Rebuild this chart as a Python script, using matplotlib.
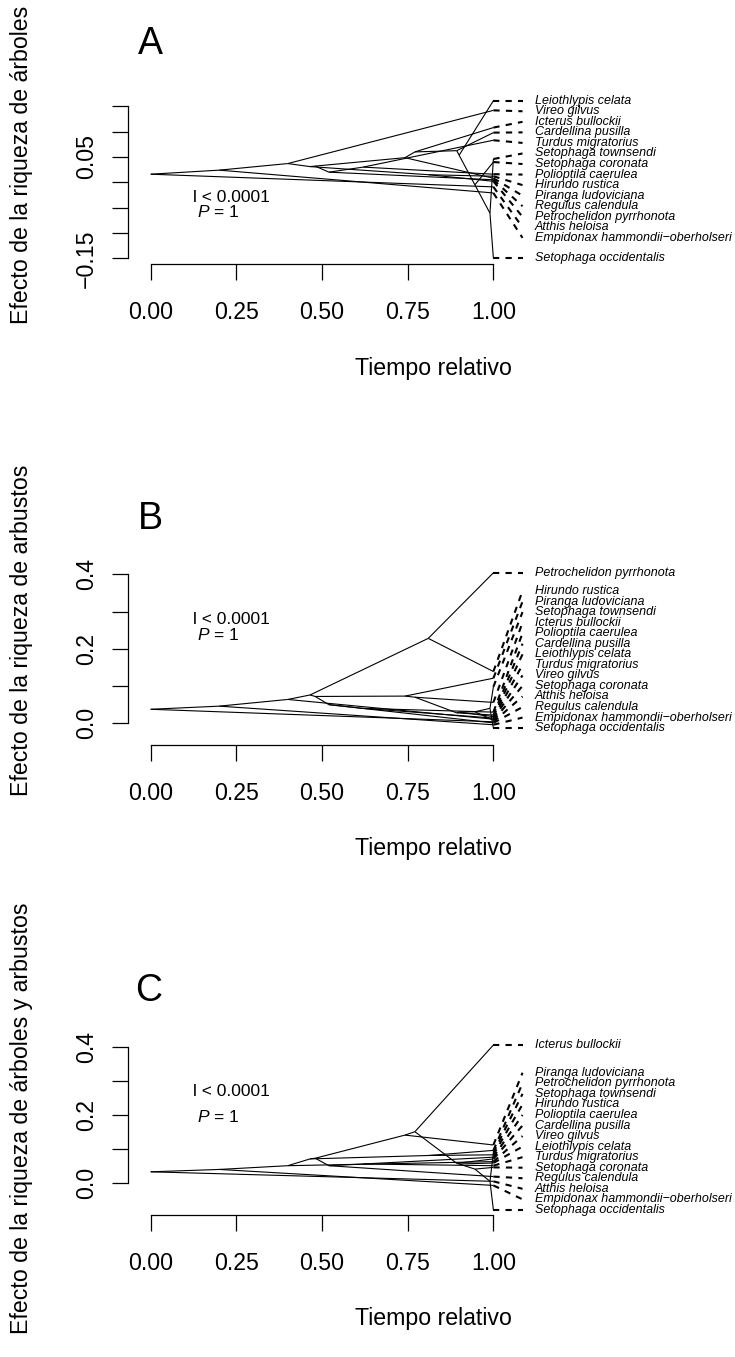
import numpy as np
import matplotlib
matplotlib.use("Agg")
import matplotlib.pyplot as plt

plt.rcParams.update({
    "font.family": ["Liberation Sans", "DejaVu Sans"],
    "mathtext.fontset": "custom",
    "mathtext.rm": "Liberation Sans",
    "mathtext.it": "Liberation Sans:italic",
})

# --- Tree (same topology for the three traits) ---
tip_names = [
    "Atthis heloisa", "Empidonax hammondii\u2212oberholseri", "Vireo gilvus",
    "Hirundo rustica", "Petrochelidon pyrrhonota", "Regulus calendula",
    "Turdus migratorius", "Polioptila caerulea", "Piranga ludoviciana",
    "Icterus bullockii", "Cardellina pusilla", "Leiothlypis celata",
    "Setophaga coronata", "Setophaga townsendi", "Setophaga occidentalis",
]
node_names = ["n0", "n1", "n2", "n3", "n4", "n5", "n6", "n7",
              "n8", "n9", "n10", "n11", "n12", "n13"]
node_time = [0.0, 0.2, 0.4, 0.465, 0.81, 0.48, 0.52, 0.62,
             0.742, 0.771, 0.893, 0.90, 0.946, 0.99]
edge_parent = ["n0", "n0", "n1", "n1", "n2", "n2", "n3", "n3", "n4", "n4",
               "n5", "n5", "n6", "n6", "n7", "n7", "n8", "n8", "n9", "n9",
               "n10", "n10", "n11", "n11", "n12", "n12", "n13", "n13"]
edge_child = [tip_names[0], "n1", tip_names[1], "n2", tip_names[2], "n3",
              "n4", "n5", tip_names[3], tip_names[4], "n6", "n8",
              tip_names[5], "n7", tip_names[6], tip_names[7],
              tip_names[8], "n9", tip_names[9], "n10", tip_names[10], "n11",
              tip_names[11], "n12", tip_names[12], "n13",
              tip_names[13], tip_names[14]]

# --- Trait values: tips (order of tip_names) and reconstructed nodes ---
tips_a = [-0.009, -0.021, 0.142, 0.012, 0.002, 0.005, 0.083, 0.016,
          0.008, 0.108, 0.098, 0.161, 0.040, 0.046, -0.150]
nodes_a = [0.016, 0.024, 0.037, 0.031, 0.015, 0.032, 0.020, 0.030,
           0.0486, 0.060, 0.0624, 0.0535, -0.005, -0.061]

tips_b = [0.004, -0.004, 0.011, 0.139, 0.404, 0.001, 0.014, 0.030,
          0.121, 0.056, 0.022, 0.018, 0.008, 0.098, -0.013]
nodes_b = [0.0376, 0.046, 0.064, 0.076, 0.228, 0.072, 0.050, 0.040,
           0.073, 0.070, 0.028, 0.030, 0.031, 0.040]

tips_c = [0.004, -0.008, 0.062, 0.082, 0.095, 0.018, 0.050, 0.075,
          0.111, 0.405, 0.070, 0.058, 0.045, 0.088, -0.080]
nodes_c = [0.032, 0.039, 0.050, 0.070, 0.080, 0.072, 0.050, 0.055,
           0.140, 0.150, 0.057, 0.055, 0.040, 0.004]

panel_letters = ["A", "B", "C"]
panel_ylabels = ["Efecto de la riqueza de árboles",
                 "Efecto de la riqueza de arbustos",
                 "Efecto de la riqueza de árboles y arbustos"]
yticks_a = [-0.15, -0.10, -0.05, 0.0, 0.05, 0.10, 0.15]
ylabels_a = ["\u22120.15", "", "", "", "0.05", "", ""]
yticks_bc = [0.0, 0.1, 0.2, 0.3, 0.4]
ylabels_bc = ["0.0", "", "0.2", "", "0.4"]
xticks = [0.0, 0.25, 0.5, 0.75, 1.0]
xticklabels = ["0.00", "0.25", "0.50", "0.75", "1.00"]
stat_lambda = "l < 0.0001"
stat_p = "$P$ = 1"


def spread_labels(vals, gap):
    # keep labels in value order, at least `gap` apart, inside the value range
    vals = np.asarray(vals, dtype=float)
    lo, hi = vals.min(), vals.max()
    order = np.argsort(-vals)
    v = vals[order]
    blocks = [[i] for i in range(len(v))]

    def top(b):
        t = np.mean([v[i] + (i - b[0]) * gap for i in b])
        return min(max(t, lo + (len(b) - 1) * gap), hi)

    changed = True
    while changed:
        changed = False
        for k in range(len(blocks) - 1):
            a, b = blocks[k], blocks[k + 1]
            if top(a) - (len(a) - 1) * gap - top(b) < gap - 1e-12:
                blocks[k] = a + b
                del blocks[k + 1]
                changed = True
                break
    pos = np.empty(len(v))
    for b in blocks:
        t = top(b)
        for i in b:
            pos[i] = t - (i - b[0]) * gap
    out = np.empty(len(v))
    out[order] = pos
    return out


W, H = 735, 1357
fig = plt.figure(figsize=(W / 100, H / 100), dpi=100)

# pixel boxes (top, bottom) of each plot region and its y range
boxes = [(65.7, 264.3), (515.0, 745.0), (1021.0, 1215.0)]
ylims = [(-0.1618, 0.2301), (-0.0583, 0.5592), (-0.095, 0.4756)]
xlim = (-0.0671, 1.705)
left_px, right_px = 127.7, 735.0
stat_pos = [((0.123, -0.029), (0.134, -0.0586)),
            ((0.123, 0.2773), (0.134, 0.237)),
            ((0.123, 0.2697), (0.134, 0.194))]
letter_pos = [(150, 44), (150, 519), (149, 991)]
ylab_center = [165, 630, 1118]

all_tips = [tips_a, tips_b, tips_c]
all_nodes = [nodes_a, nodes_b, nodes_c]

for p in range(3):
    top_px, bot_px = boxes[p]
    ax = fig.add_axes([left_px / W, 1 - bot_px / H,
                       (right_px - left_px) / W, (bot_px - top_px) / H])
    ax.set_xlim(*xlim)
    ax.set_ylim(*ylims[p])

    t_vals = all_tips[p]
    n_vals = all_nodes[p]
    xpos = {name: 1.0 for name in tip_names}
    ypos = dict(zip(tip_names, t_vals))
    xpos.update(dict(zip(node_names, node_time)))
    ypos.update(dict(zip(node_names, n_vals)))

    for par, ch in zip(edge_parent, edge_child):
        ax.plot([xpos[par], xpos[ch]], [ypos[par], ypos[ch]],
                color="black", lw=0.8, solid_capstyle="butt")

    # label spacing = one text line in pixels, turned into data units
    px_per_unit = ax.transData.transform((0, 1))[1] - ax.transData.transform((0, 0))[1]
    lab_y = spread_labels(t_vals, 10.55 / px_per_unit)
    for name, v, ly in zip(tip_names, t_vals, lab_y):
        ax.plot([1.0, 1.085], [v, ly], color="black", lw=1.5,
                dashes=(3.0, 3.0))
        ax.text(1.12, ly, name, fontsize=9.0, style="italic",
                ha="left", va="center")

    (lx, ly_), (px_, py_) = stat_pos[p]
    ax.text(lx, ly_, stat_lambda, fontsize=12.5, ha="left", va="center")
    ax.text(px_, py_, stat_p, fontsize=12.5, ha="left", va="center")

    for s in ["top", "right"]:
        ax.spines[s].set_visible(False)
    ax.spines["bottom"].set_bounds(0, 1)
    ax.spines["left"].set_linewidth(0.9)
    ax.spines["bottom"].set_linewidth(0.9)

    ax.set_xticks(xticks)
    ax.set_xticklabels(xticklabels)
    if p == 0:
        ax.set_yticks(yticks_a)
        ax.set_yticklabels(ylabels_a)
        ax.spines["left"].set_bounds(yticks_a[0], yticks_a[-1])
    else:
        ax.set_yticks(yticks_bc)
        ax.set_yticklabels(ylabels_bc)
        ax.spines["left"].set_bounds(yticks_bc[0], yticks_bc[-1])
    ax.tick_params(length=11.5, width=0.9, labelsize=16.7)
    ax.tick_params(axis="x", pad=15)
    ax.tick_params(axis="y", pad=10)
    for lbl in ax.get_yticklabels():
        lbl.set_rotation(90)
        lbl.set_va("center")

    fig.text(letter_pos[p][0] / W, 1 - letter_pos[p][1] / H, panel_letters[p],
             fontsize=27, ha="center", va="center")
    fig.text(22 / W, 1 - ylab_center[p] / H, panel_ylabels[p], fontsize=16.7,
             rotation=90, ha="center", va="center")
    fig.text(433 / W, 1 - (bot_px + 104) / H, "Tiempo relativo",
             fontsize=16.7, ha="center", va="center")

fig.savefig("out.png", dpi=100)
